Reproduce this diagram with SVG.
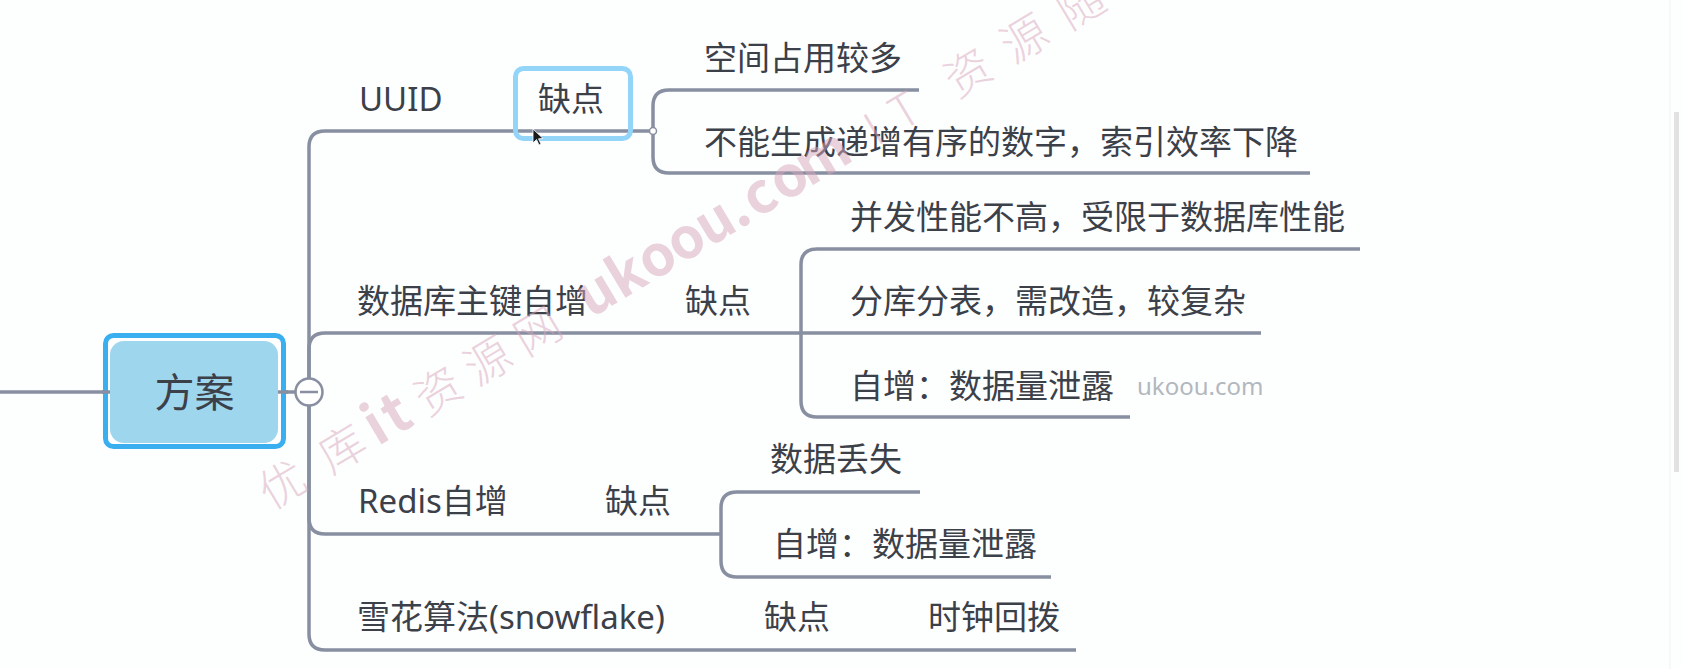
<svg xmlns="http://www.w3.org/2000/svg" width="1683" height="669" viewBox="0 0 1683 669">
<style>
  .t { font-family: "Noto Sans", "Noto Sans CJK SC", sans-serif; font-size: 33px; fill: #3b4049; }
  .ln { fill: none; stroke: #878fa0; stroke-width: 3.5; stroke-linecap: butt; }
  .wm { font-family: "Noto Sans CJK SC", sans-serif; fill: #d7a6bb; fill-opacity: 0.5; }
  .wb { font-weight: bold; font-size: 56px; }
</style>
<rect width="1683" height="669" fill="#fdfefe"/>
<line x1="1670" y1="0" x2="1670" y2="669" stroke="#f2f3f3" stroke-width="1"/>
<rect x="1674" y="112" width="5" height="360" fill="#e2e2e2"/>

<g id="connectors">
  <line class="ln" x1="0" y1="392" x2="110" y2="392"/>
  <line class="ln" x1="278" y1="392" x2="295" y2="392"/>
  <path class="ln" d="M309,392 V147 Q309,131 325,131 H653"/>
  <path class="ln" d="M309,392 V349 Q309,333 325,333 H1261"/>
  <path class="ln" d="M309,392 V518 Q309,534 325,534 H721"/>
  <path class="ln" d="M309,392 V634 Q309,650 325,650 H1076"/>
  <path class="ln" d="M653,131 V106 Q653,90 669,90 H919"/>
  <path class="ln" d="M653,131 V157 Q653,173 669,173 H1310"/>
  <path class="ln" d="M801,333 V265 Q801,249 817,249 H1360"/>
  <path class="ln" d="M801,333 V401 Q801,417 817,417 H1130"/>
  <path class="ln" d="M721,534 V508 Q721,492 737,492 H920"/>
  <path class="ln" d="M721,534 V561 Q721,577 737,577 H1051"/>
  <circle cx="653" cy="131" r="3.5" fill="#ffffff" stroke="#878fa0" stroke-width="1.5"/>
</g>

<g id="root">
  <rect x="105.5" y="335.5" width="178" height="111" rx="8" fill="#ffffff" stroke="#3aaff0" stroke-width="5"/>
  <rect x="110" y="341" width="168" height="102" rx="14" fill="#9ed6ee"/>
  <line class="ln" x1="102" y1="392" x2="110" y2="392"/>
  <line class="ln" x1="278" y1="392" x2="288" y2="392"/>
  <text class="t" x="194.5" y="407" text-anchor="middle" style="font-size:40px">方案</text>
</g>
<g id="collapse">
  <circle cx="309" cy="392" r="13.5" fill="#ffffff" stroke="#878fa0" stroke-width="2.5"/>
  <line x1="300" y1="392" x2="318" y2="392" stroke="#878fa0" stroke-width="2.5"/>
</g>

<g id="uuid"><text class="t" x="359" y="111">UUID</text></g>
<g id="uuid-cons">
  <rect x="515.5" y="68.5" width="115" height="70" rx="8" fill="none" stroke="#93d5f8" stroke-width="5"/>
  <text class="t" x="538" y="111">缺点</text>
</g>
<g id="uuid-c1"><text class="t" x="704" y="70">空间占用较多</text></g>
<g id="uuid-c2"><text class="t" x="704" y="154">不能生成递增有序的数字，索引效率下降</text></g>

<g id="db"><text class="t" x="357" y="313">数据库主键自增</text></g>
<g id="db-cons"><text class="t" x="685" y="313">缺点</text></g>
<g id="db-c1"><text class="t" x="850" y="229">并发性能不高，受限于数据库性能</text></g>
<g id="db-c2"><text class="t" x="850" y="313">分库分表，需改造，较复杂</text></g>
<g id="db-c3"><text class="t" x="850" y="398">自增：数据量泄露</text></g>

<g id="redis"><text class="t" x="358" y="513">Redis自增</text></g>
<g id="redis-cons"><text class="t" x="605" y="513">缺点</text></g>
<g id="redis-c1"><text class="t" x="770" y="471">数据丢失</text></g>
<g id="redis-c2"><text class="t" x="773" y="556">自增：数据量泄露</text></g>

<g id="snow"><text class="t" x="357" y="629">雪花算法(snowflake)</text></g>
<g id="snow-cons"><text class="t" x="764" y="629">缺点</text></g>
<g id="snow-c1"><text class="t" x="928" y="629">时钟回拨</text></g>

<g id="cursor">
  <path d="M533,129 L533,143 L536.5,139.5 L539,145 L541,144 L538.5,138.8 L543,138.5 Z" fill="#1a1a1a" stroke="#ffffff" stroke-width="0.8"/>
</g>

<g id="watermark">
  <text class="wm" transform="translate(283,486) rotate(-31)" text-anchor="middle" y="15" style="font-size:46px;font-weight:300">
    <tspan x="0">优</tspan><tspan x="70">库</tspan><tspan x="110" class="wb">i</tspan><tspan x="134" class="wb">t</tspan><tspan x="182">资</tspan><tspan x="240">源</tspan><tspan x="298">网</tspan><tspan x="368" class="wb">u</tspan><tspan x="403" class="wb">k</tspan><tspan x="438" class="wb">o</tspan><tspan x="472" class="wb">o</tspan><tspan x="506" class="wb">u</tspan><tspan x="532" class="wb">.</tspan><tspan x="558" class="wb">c</tspan><tspan x="592" class="wb">o</tspan><tspan x="632" class="wb">m</tspan><tspan x="690">I</tspan><tspan x="726">T</tspan><tspan x="800">资</tspan><tspan x="866">源</tspan><tspan x="932">随</tspan>
  </text>
  <text x="1137" y="395" style="font-family:'Noto Sans','Open Sans',sans-serif;font-size:24px;fill:#b3b7be">ukoou.com</text>
</g>
</svg>
